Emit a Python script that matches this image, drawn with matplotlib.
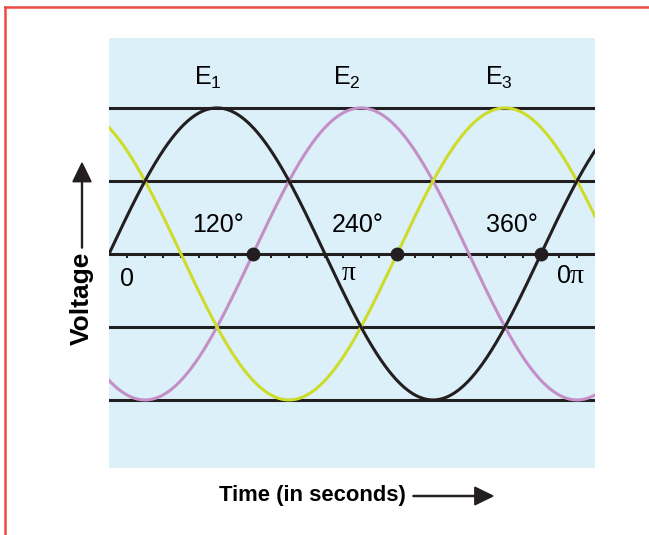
import matplotlib
matplotlib.use("Agg")
import matplotlib.pyplot as plt
from matplotlib.lines import Line2D
import numpy as np

plt.rcParams['font.family'] = ['Liberation Sans', 'DejaVu Sans']
plt.rcParams['mathtext.fontset'] = 'custom'
plt.rcParams['mathtext.rm'] = 'Liberation Sans'
plt.rcParams['mathtext.it'] = 'Liberation Sans'

# phases (degrees) and names of the three voltages
phases = [0, 120, 240]
names = ["E$_1$", "E$_2$", "E$_3$"]
name_x = [82, 198, 325]
colors = ["#231f20", "#c48fc6", "#cddc2a"]
levels = [1.0, 0.5, 0.0, -0.5, -1.0]
angle_labels = ["120°", "240°", "360°"]
angle_pos = [120, 240, 360]
angle_text_x = [91, 207, 336]
tick_deg = np.arange(15, 400, 15)

fig = plt.figure(figsize=(6.49, 5.35), dpi=100)
ax = fig.add_axes([109/649, 1-468/535, (595-109)/649, (468-38)/535])
ax.set_facecolor("#dcf0fa")
for s in ax.spines.values():
    s.set_visible(False)
ax.set_xticks([])
ax.set_yticks([])
ax.set_xlim(0, 405)
ax.set_ylim(-1.466, 1.479)

x = np.linspace(0, 405, 800)
for lv in levels:
    ax.axhline(lv, color="#231f20", lw=2.2, zorder=2)

# order so black is on top
for ph, c, z in zip(phases, colors, [5, 3, 4]):
    ax.plot(x, np.sin(np.radians(x - ph)), color=c, lw=2.2, zorder=z)

ax.vlines(tick_deg, -0.03, 0, color="#231f20", lw=1.5, zorder=2)
ax.plot(angle_pos, [0, 0, 0], "o", color="#231f20", ms=9, zorder=6)

for nx, nm in zip(name_x, names):
    ax.text(nx, 1.205, nm, fontsize=18, ha="center", va="center")
for tx, t in zip(angle_text_x, angle_labels):
    ax.text(tx, 0.2, t, fontsize=18, ha="center", va="center")

ax.text(15, -0.22, "0", fontsize=18, ha="center", va="baseline")
ax.text(200, -0.175, "π", fontsize=20, ha="center", va="baseline", family="Liberation Serif")
ax.text(385, -0.2, "0", fontsize=18, ha="right", va="baseline")
ax.text(384, -0.2, "π", fontsize=20, ha="left", va="baseline", family="Liberation Serif")

# axis captions with arrows
fig.text(82/649, 1-298/535, "Voltage", rotation=90, fontsize=19, fontweight="bold",
         ha="center", va="center")
fig.add_artist(matplotlib.patches.FancyArrow(82/649, 1-248/535, 0, (248-163)/535,
               width=0.0015, head_width=0.028, head_length=0.035,
               length_includes_head=True, color="#231f20", transform=fig.transFigure))
fig.text(312/649, 1-496/535, "Time (in seconds)", fontsize=15.8, fontweight="bold",
         ha="center", va="center")
fig.add_artist(matplotlib.patches.FancyArrow(413/649, 1-496/535, (493-413)/649, 0,
               width=0.002, head_width=0.033, head_length=0.028,
               length_includes_head=True, color="#231f20", transform=fig.transFigure))

# red frame
fig.add_artist(Line2D([5/649, 1], [1-7/535, 1-7/535], color="#ef4a45", lw=1.8,
                      transform=fig.transFigure))
fig.add_artist(Line2D([5/649, 5/649], [0, 1-7/535], color="#ef4a45", lw=1.8,
                      transform=fig.transFigure))

fig.savefig("out.png", dpi=100)
